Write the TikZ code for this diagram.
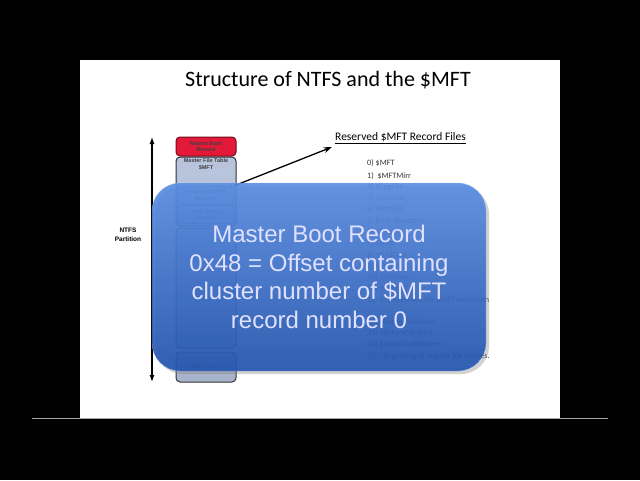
\documentclass[tikz,border=0pt]{standalone}
\usepackage{fontspec}
\setmainfont{Carlito}
\newfontfamily\arialfont{Liberation Sans}
\usetikzlibrary{positioning,arrows.meta,shadows}

\definecolor{mbrred}{RGB}{228,24,56}
\definecolor{stackfill}{RGB}{184,196,220}
\definecolor{copyfill}{RGB}{168,180,204}
\definecolor{boxline}{RGB}{50,50,55}
\definecolor{notetop}{RGB}{88,140,226}
\definecolor{notebot}{RGB}{34,84,174}

\tikzset{
  stackbox/.style={draw=boxline, line width=1pt, rounded corners=4pt, fill=stackfill,
    minimum width=60pt, align=center, inner sep=0pt, text=black!75,
    font=\arialfont\bfseries\fontsize{5.5}{6.5}\selectfont},
  listtext/.style={anchor=west, inner sep=0pt, text=black!80, font=\fontsize{8.2}{9}\selectfont},
  note/.style={rounded corners=28pt, minimum width=334pt, minimum height=188pt,
    top color=notetop, bottom color=notebot, fill opacity=0.91, text opacity=1,
    draw=notetop!50!white, draw opacity=0.6, text=white!88!blue, align=center,
    font=\arialfont\fontsize{24}{28.5}\selectfont,
    drop shadow={opacity=0.35, shadow xshift=3pt, shadow yshift=-3pt}}
}

\begin{document}
\begin{tikzpicture}[x=1pt,y=-1pt]
    \fill[black] (0,0) rectangle (640,480);
    \fill[white] (80,60) rectangle (560,418);
    \draw[gray!70, line width=1pt] (32,418) -- (608,418);
    \node[font=\fontsize{22}{26}\selectfont] (title) at (328,80) {Structure of NTFS and the \$MFT};

    % partition stack
    \node[stackbox, fill=mbrred, draw=mbrred!50!black, minimum height=19pt] (mbr) at (206,146.5) {Master Boot\\Record};
    \node[stackbox, minimum height=69pt] (mft) at (206,191.5) {};
    \node[anchor=north, align=center, inner sep=2pt, text=black!75, font=\arialfont\bfseries\fontsize{5.5}{6.5}\selectfont] (mfthead) at (mft.north) {Master File Table\\\$MFT};
    \node[stackbox, minimum width=56pt, minimum height=18pt, line width=0.5pt] (resv) at (206,195) {Reserved \$MFT\\Records};
    \node[stackbox, minimum width=56pt, minimum height=18pt, line width=0.5pt] (user) at (206,214.5) {User Space\\Records};
    \node[stackbox, minimum height=120pt] (free) at (206,288) {};
    \node[stackbox, fill=copyfill, minimum height=30pt] (copy) at (206,367) {\$MFT Copy};

    % partition arrow
    \coordinate (ptop) at (152,137);
    \coordinate (pbot) at (152,382);
    \draw[{Latex[length=7pt,width=5pt]}-{Latex[length=7pt,width=5pt]}, line width=1.2pt] (ptop) -- (pbot);
    \node[align=center, font=\arialfont\bfseries\fontsize{6.5}{9}\selectfont] (ntfs) at (128,235) {NTFS\\Partition};

    % reserved record files
    \node[font=\fontsize{11.5}{14}\selectfont] (rhead) at (400.5,138) {\underline{Reserved \$MFT Record Files}};
    \draw[-{Stealth[length=8pt,width=6pt]}, line width=1.3pt] (resv.north east) -- (rhead.south west);
    \foreach \i/\y/\txt in {0/163/{0) \$MFT}, 1/176/{1)\ \ \$MFTMirr}, 2/187.5/{2) \$LogFile},
        3/198.5/{3) \$Volume}, 4/209.5/{4) \$AttrDef}, 5/221/{5) Root directory},
        6/232/{6) \$Bitmap}, 7/243.5/{7) \$Boot}, 8/255/{8) \$BadClus}, 9/266/{9) \$Secure},
        10/277/{10) \$UpCase}, 11/288.5/{11) \$Extend}, 12/300/{12--23) Reserved for \$MFT extension},
        13/322/{24) \$Extend\textbackslash\$Quota}, 14/333/{25) \$Extend\textbackslash\$ObjId},
        15/344.5/{26) \$Extend\textbackslash\$Reparse}, 16/356/{27-- \ Beginning of regular file entries.}}
      \node[listtext] (rec\i) at (367,\y) {\txt};

    % overlay
    \node[note] (note) at (319,277) {Master Boot Record\\0x48 = Offset containing\\cluster number of \$MFT\\record number 0};
\end{tikzpicture}
\end{document}
